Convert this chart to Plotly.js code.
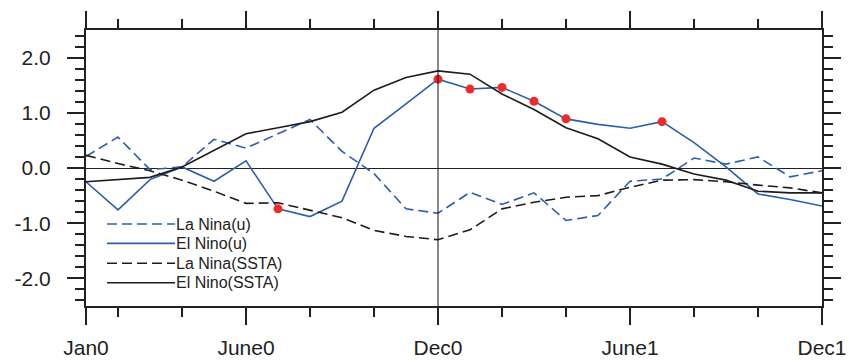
<!DOCTYPE html>
<html>
<head>
<meta charset="utf-8">
<script src="https://cdn.plot.ly/plotly-3.0.1.min.js"></script>
<style>html,body{margin:0;padding:0;background:#fff;}#chart{width:850px;height:361px;}</style>
</head>
<body>
<div id="chart"></div>
<script>
// month index 0 = Jan0 ... 23 = Dec1
var months = [0,1,2,3,4,5,6,7,8,9,10,11,12,13,14,15,16,17,18,19,20,21,22,23];
var laNinaU   = [0.21,0.56,-0.03,0.02,0.52,0.36,0.62,0.88,0.30,-0.10,-0.74,-0.82,-0.44,-0.66,-0.45,-0.95,-0.86,-0.24,-0.20,0.18,0.07,0.20,-0.16,-0.05];
var elNinoU   = [-0.25,-0.76,-0.21,0.02,-0.24,0.13,-0.74,-0.88,-0.60,0.72,1.16,1.61,1.43,1.46,1.21,0.89,0.79,0.72,0.84,0.46,0.02,-0.47,-0.57,-0.69];
var laNinaSST = [0.23,0.08,-0.05,-0.22,-0.42,-0.64,-0.63,-0.77,-0.90,-1.13,-1.24,-1.30,-1.12,-0.74,-0.62,-0.53,-0.50,-0.35,-0.22,-0.21,-0.25,-0.31,-0.36,-0.45];
var elNinoSST = [-0.25,-0.21,-0.17,0.02,0.32,0.62,0.73,0.84,1.01,1.41,1.64,1.76,1.70,1.34,1.06,0.73,0.53,0.20,0.07,-0.11,-0.22,-0.42,-0.45,-0.45];
// months where El Nino(u) is significant (red dots)
var sigMonths = [6,11,12,13,14,15,18];
var sigValues = sigMonths.map(function(m){ return elNinoU[m]; });

var seriesNames = ["La Nina(u)","El Nino(u)","La Nina(SSTA)","El Nino(SSTA)"];
var majorTickVals = [0,5,11,17,23];
var majorTickText = ["Jan0","June0","Dec0","June1","Dec1"];
var minorTickVals = [1,3,7,9,13,15,19,21];
var yTickVals = [-2,-1,0,1,2];
var yTickText = ["-2.0","-1.0","0.0","1.0","2.0"];

var blue = "#2b5fae", black = "#1c1c1c", dashPat = "10px,5px";
var styles = [
  {color: blue, width: 1.6, dash: dashPat},
  {color: blue, width: 1.6, dash: "solid"},
  {color: black, width: 1.6, dash: dashPat},
  {color: black, width: 1.6, dash: "solid"}
];
var seriesData = [laNinaU, elNinoU, laNinaSST, elNinoSST];

var traces = seriesData.map(function(d, i){
  return {x: months, y: d, name: seriesNames[i], mode: "lines", line: styles[i], hoverinfo: "skip"};
});
traces.push({x: sigMonths, y: sigValues, mode: "markers", name: "significant", showlegend: false,
             hoverinfo: "skip", marker: {color: "#ee2b2b", size: 9}});

// hand-placed legend (line sample + label), in paper coordinates
var legendRows = [0.297, 0.227, 0.155, 0.0844];
var shapes = [
  {type: "line", xref: "x", yref: "paper", x0: 11, x1: 11, y0: 0, y1: 1, line: {color: "#111", width: 1}}
];
var annotations = [];
seriesNames.forEach(function(n, i){
  shapes.push({type: "line", xref: "paper", yref: "paper", x0: 0.0285, x1: 0.121,
               y0: legendRows[i], y1: legendRows[i], line: styles[i]});
  annotations.push({xref: "paper", yref: "paper", x: 0.1195, y: legendRows[i], xanchor: "left", yanchor: "middle",
                    text: n, showarrow: false, font: {size: 16, color: "#222"}});
});

var layout = {
  width: 850, height: 361,
  margin: {l: 86, r: 28, t: 30, b: 55},
  paper_bgcolor: "#fff", plot_bgcolor: "#fff",
  font: {family: "Liberation Sans, Arial, sans-serif", color: "#222"},
  showlegend: false,
  xaxis: {range: [0, 23], tickmode: "array", tickvals: majorTickVals, ticktext: majorTickText,
          ticks: "outside", ticklen: 17, tickwidth: 2, tickcolor: "#222",
          showline: true, linewidth: 2, linecolor: "#222", mirror: "allticks",
          showgrid: false, zeroline: false, tickfont: {size: 21}, ticklabelstandoff: 5,
          minor: {tickmode: "array", tickvals: minorTickVals, ticks: "outside", ticklen: 9, tickwidth: 2, tickcolor: "#222", showgrid: false}},
  yaxis: {range: [-2.5, 2.5], tickmode: "array", tickvals: yTickVals, ticktext: yTickText,
          ticks: "outside", ticklen: 17, tickwidth: 2, tickcolor: "#222",
          showline: true, linewidth: 2, linecolor: "#222", mirror: "allticks",
          showgrid: false, zeroline: true, zerolinecolor: "#222", zerolinewidth: 1,
          tickfont: {size: 21}, ticklabelstandoff: 12,
          minor: {tick0: 0, dtick: 0.2, ticks: "outside", ticklen: 9, tickwidth: 2, tickcolor: "#222", showgrid: false}},
  shapes: shapes,
  annotations: annotations
};

Plotly.newPlot("chart", traces, layout, {displayModeBar: false, staticPlot: true});
</script>
</body>
</html>
